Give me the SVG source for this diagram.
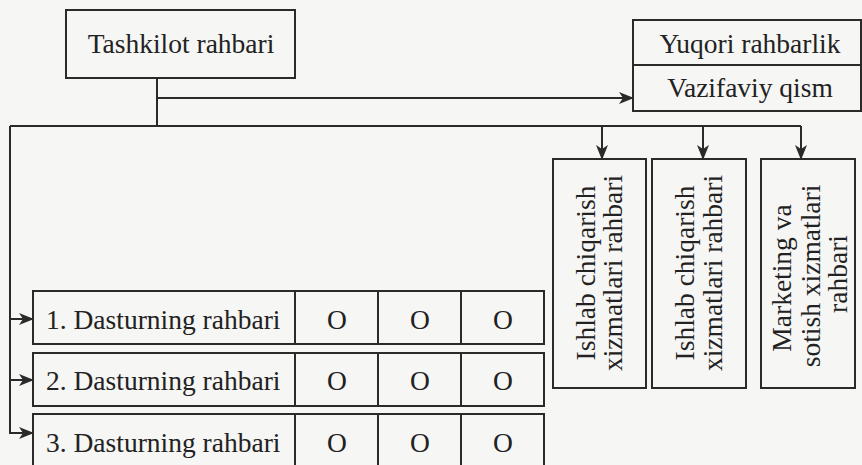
<svg xmlns="http://www.w3.org/2000/svg" width="862" height="465" viewBox="0 0 862 465">
<style>
.box{fill:none;stroke:#2a2a2a;stroke-width:2}
.ln{fill:none;stroke:#2a2a2a;stroke-width:2}
text{font-family:"Liberation Serif","Times New Roman",serif;font-size:27.5px;fill:#222}
.c{text-anchor:middle}
</style>
<defs>
<marker id="ah" markerUnits="userSpaceOnUse" markerWidth="15" markerHeight="12" refX="14" refY="6" orient="auto" viewBox="0 0 15 12">
<path d="M0,0 L15,6 L0,12 L4,6 z" fill="#2a2a2a"/>
</marker>
</defs>
<rect width="862" height="465" fill="#f6f6f4"/>
<g id="connectors">
<path class="ln" d="M157,78 V126"/>
<path class="ln" d="M157,98 H633" marker-end="url(#ah)"/>
<path class="ln" d="M10,126 H801"/>
<path class="ln" d="M602,126 V159" marker-end="url(#ah)"/>
<path class="ln" d="M703,126 V159" marker-end="url(#ah)"/>
<path class="ln" d="M801,126 V159" marker-end="url(#ah)"/>
<path class="ln" d="M10,126 V433 H33" marker-end="url(#ah)"/>
<path class="ln" d="M10,319 H33" marker-end="url(#ah)"/>
<path class="ln" d="M10,380 H33" marker-end="url(#ah)"/>
</g>
<g id="tashkilot">
<rect class="box" x="66" y="10" width="229" height="68"/>
<text class="c" x="181" y="53">Tashkilot rahbari</text>
</g>
<g id="yuqori">
<rect class="box" x="633" y="20" width="228" height="91"/>
<path class="ln" d="M633,65 H861"/>
<text class="c" x="750" y="53">Yuqori rahbarlik</text>
<text class="c" x="750" y="97">Vazifaviy qism</text>
</g>
<g id="ishlab1">
<rect class="box" x="553" y="159" width="93" height="229"/>
<text class="c" transform="translate(595,273) rotate(-90)">Ishlab chiqarish</text>
<text class="c" transform="translate(622,273) rotate(-90)">xizmatlari rahbari</text>
</g>
<g id="ishlab2">
<rect class="box" x="652" y="159" width="94" height="229"/>
<text class="c" transform="translate(694,273) rotate(-90)">Ishlab chiqarish</text>
<text class="c" transform="translate(722,273) rotate(-90)">xizmatlari rahbari</text>
</g>
<g id="marketing">
<rect class="box" x="761" y="159" width="94" height="229"/>
<text class="c" transform="translate(791,278) rotate(-90)">Marketing va</text>
<text class="c" transform="translate(820,276) rotate(-90)">sotish xizmatlari</text>
<text class="c" transform="translate(847,274) rotate(-90)">rahbari</text>
</g>
<g id="dastur1">
<rect class="box" x="33" y="291" width="511" height="53"/>
<path class="ln" d="M295,291 V344 M378,291 V344 M461,291 V344"/>
<text x="46" y="329">1. Dasturning rahbari</text>
<text class="c" x="337" y="329">O</text>
<text class="c" x="420" y="329">O</text>
<text class="c" x="503" y="329">O</text>
</g>
<g id="dastur2">
<rect class="box" x="33" y="353" width="511" height="53"/>
<path class="ln" d="M295,353 V406 M378,353 V406 M461,353 V406"/>
<text x="46" y="390">2. Dasturning rahbari</text>
<text class="c" x="337" y="390">O</text>
<text class="c" x="420" y="390">O</text>
<text class="c" x="503" y="390">O</text>
</g>
<g id="dastur3">
<path class="box" d="M33,470 V414 H544 V470"/>
<path class="ln" d="M295,414 V470 M378,414 V470 M461,414 V470"/>
<text x="46" y="452">3. Dasturning rahbari</text>
<text class="c" x="337" y="452">O</text>
<text class="c" x="420" y="452">O</text>
<text class="c" x="503" y="452">O</text>
</g>
</svg>
